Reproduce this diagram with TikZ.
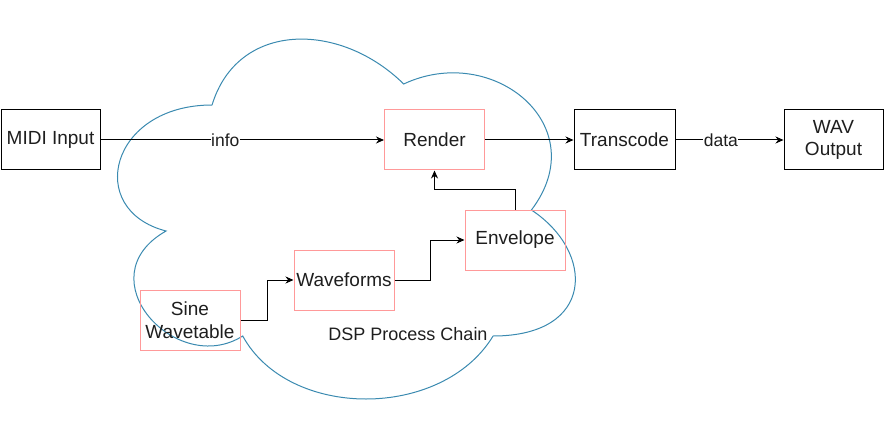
\documentclass[tikz,border=0pt]{standalone}
\usepackage{fontspec}
\setmainfont{Liberation Sans}
\usetikzlibrary{arrows.meta}
\definecolor{cloudblue}{RGB}{58,138,176}
\definecolor{boxpink}{RGB}{255,153,153}
\definecolor{txtgray}{RGB}{30,30,30}

\begin{document}
\begin{tikzpicture}[x=1pt,y=-1pt,
    every node/.style={font=\fontsize{17.5}{22}\selectfont,text=txtgray},
    blackbox/.style={rectangle,draw=black,line width=1pt,minimum width=99pt,minimum height=60pt,inner sep=0pt,align=center,font=\fontsize{19}{22.5}\selectfont},
    pinkbox/.style={blackbox,draw=boxpink,minimum width=100pt}]
    \useasboundingbox (0,0) rectangle (885,422);
    % cloud
    \draw[cloudblue,line width=1pt]
    (212.05,105) .. controls (109.85,105) and (84.3,210) .. (166.06,231)
    .. controls (84.3,277.2) and (176.28,378) .. (242.71,336)
    .. controls (288.7,420) and (442,420) .. (493.1,336)
    .. controls (595.3,336) and (595.3,252) .. (531.4,210)
    .. controls (595.3,126) and (493.1,42) .. (403.7,84)
    .. controls (339.8,21) and (237.6,21) .. (212.05,105) -- cycle;
    \node[font=\fontsize{18}{22}\selectfont] (dsp) at (408,334) {DSP Process Chain};
    \draw
    (50.5,140) node[blackbox](midi){MIDI Input}
    (434.5,140) node[pinkbox](render){Render}
    (624.5,140) node[blackbox,minimum width=101pt](transcode){Transcode}
    (833.5,140) node[blackbox](wav){WAV\\Output}
    (515,240) node[pinkbox](envelope){Envelope}
    (344,280) node[pinkbox](waveforms){Waveforms}
    (190,320) node[pinkbox](sine){Sine\\Wavetable}
    ;
    \begin{scope}[
        every node/.style={font=\fontsize{17.5}{22}\selectfont,text=txtgray,fill=white,inner sep=0.5pt},
        every path/.style={-{Stealth[length=8pt,width=7pt]},draw=black,line width=1pt}]
        \draw (midi) -- node[pos=0.44] {info} (render);
        \draw (render) -- (transcode);
        \draw (transcode) -- node[pos=0.42] {data} (wav);
        \draw (envelope.north) -- ++(0,-20) -| (render.south);
        \draw (waveforms.east) -- ++(35.5,0) |- (envelope.west);
        \draw (sine.east) -- ++(27,0) |- (waveforms.west);
    \end{scope}
\end{tikzpicture}
\end{document}
